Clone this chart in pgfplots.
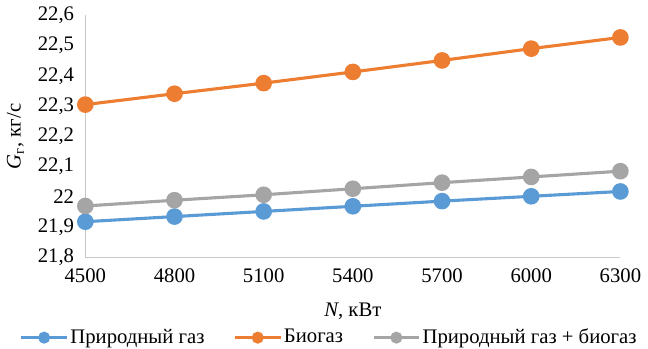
\documentclass[border=0pt]{standalone}
\usepackage{pgfplots}
\pgfplotsset{compat=1.18}
\usepackage{fontspec}
\setmainfont{Liberation Serif}
\definecolor{cblue}{HTML}{5B9BD5}
\definecolor{corange}{HTML}{ED7D31}
\definecolor{cgray}{HTML}{A5A5A5}
\definecolor{axgray}{HTML}{C8C8C8}
\begin{document}
\fontsize{20}{24}\selectfont
\begin{tikzpicture}[x=1bp,y=1bp]
\begin{axis}[
  scale only axis,
  width=515bp, height=233bp,
  xmin=4500, xmax=6300,
  ymin=21.8, ymax=22.6,
  xtick={4500,4800,...,6300},
  ytick={21.8,21.9,...,22.65},
  axis x line*=bottom, axis y line*=left,
  axis line style={axgray, line width=1.3pt, -},
  major tick length=0pt,
  tick label style={font=\fontsize{20}{24}\selectfont},
  /pgf/number format/assume math mode=true,
  /pgf/number format/use comma,
  /pgf/number format/1000 sep={},
  yticklabel style={/pgf/number format/fixed, /pgf/number format/precision=1},
  xticklabel style={yshift=-4bp},
  yticklabel style={xshift=-4bp},
  xlabel={\textit{N}, кВт},
  ylabel={\textit{G}\textsubscript{г}, кг/с},
  label style={font=\fontsize{20}{24}\selectfont},
  xlabel style={yshift=-6bp},
  ylabel style={yshift=0bp},
  legend style={at={(0.456,-0.285)}, anchor=north, draw=none, fill=none,
    font=\fontsize{20}{24}\selectfont, legend columns=-1, inner sep=0pt,
    /tikz/every even column/.append style={column sep=26bp}},
  legend image code/.code={\draw[#1, line width=2.5pt, mark size=4.5bp, mark repeat=2, mark phase=2] plot coordinates {(0bp,0bp) (22bp,0bp) (44bp,0bp)};},
  every axis plot/.append style={line width=3pt, mark=*, mark size=6.5bp},
  clip=false,
]
\addplot[color=cblue, mark options={fill=cblue, draw=cblue}] coordinates {
(4500,21.918) (4800,21.935) (5100,21.952) (5400,21.969) (5700,21.986) (6000,22.002) (6300,22.018)};
\addlegendentry{Природный газ}
\addplot[color=corange, mark options={fill=corange, draw=corange}] coordinates {
(4500,22.305) (4800,22.341) (5100,22.376) (5400,22.413) (5700,22.451) (6000,22.490) (6300,22.527)};
\addlegendentry{Биогаз}
\addplot[color=cgray, mark options={fill=cgray, draw=cgray}] coordinates {
(4500,21.970) (4800,21.989) (5100,22.007) (5400,22.027) (5700,22.047) (6000,22.066) (6300,22.085)};
\addlegendentry{Природный газ + биогаз}
\end{axis}
\end{tikzpicture}
\end{document}
